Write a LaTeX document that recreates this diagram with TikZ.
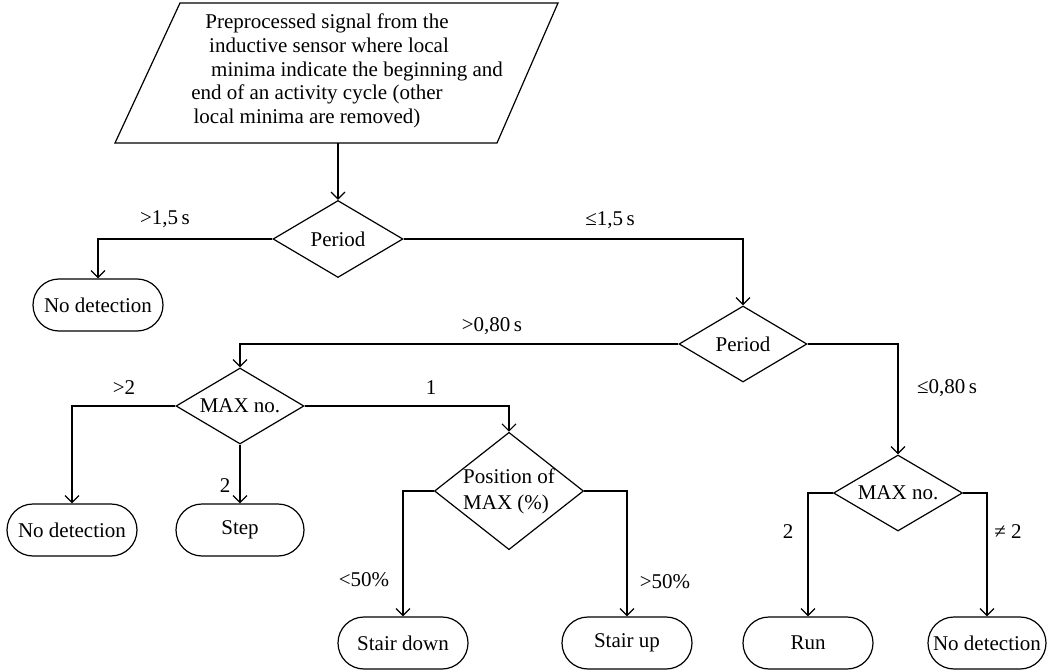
\documentclass[tikz,border=0pt]{standalone}
\usepackage{fontspec}
\setmainfont{Liberation Serif}
\usetikzlibrary{shapes.geometric,shapes.misc,arrows.meta}
\begin{document}
\begin{tikzpicture}[x=1pt,y=-1pt,
  every node/.style={font=\fontsize{21}{24}\selectfont},
  line/.style={line width=1.2pt},
  arr/.style={line width=1.2pt,-{Straight Barb[length=7pt,width=14pt]}},
  term/.style={draw,line width=1.2pt,rounded rectangle,minimum width=130pt,minimum height=52pt,inner sep=0pt},
  dec/.style={draw,line width=1.2pt,diamond,aspect=1.68,minimum width=128pt,minimum height=76pt,inner sep=0pt},
  lbl/.style={inner sep=0pt}]
\useasboundingbox (0,0) rectangle (1047,671);

% input parallelogram
\draw[line] (180,3) -- (558,3) -- (497,143) -- (115,143) -- cycle;
\node[lbl,anchor=base] (t1) at (327,29) {Preprocessed signal from the};
\node[lbl,anchor=base] (t2) at (329,53) {inductive sensor where local};
\node[lbl,anchor=base] (t3) at (357,77) {minima indicate the beginning and};
\node[lbl,anchor=base] (t4) at (317,100) {end of an activity cycle (other};
\node[lbl,anchor=base] (t5) at (307,124) {local minima are removed)};
\coordinate (inp) at (338,143);

% decisions
\node[dec,minimum width=130pt,minimum height=77pt] (d1) at (338,239) {Period};
\node[dec] (d2) at (743,344) {Period};
\node[dec] (d4) at (240,406) {MAX no.};
\node[dec,minimum width=129pt] (d3) at (898,493) {MAX no.};
\node[dec,aspect=1.27,minimum width=148pt,minimum height=115pt,align=left,font=\fontsize{21}{26}\selectfont] (d5) at (509,491) {Position of\\MAX (\%)};

% terminals
\node[term] (nd1) at (98,305) {No detection};
\node[term] (nd2) at (72,530) {No detection};
\node[term,minimum width=128pt] (step) at (240,530) {Step};
\node[term] (sdown) at (403,643) {Stair down};
\node[term] (sup) at (627,643) {Stair up};
\node[term] (run) at (808,643) {Run};
\node[term,minimum width=118pt] (nd3) at (987,643) {No detection};

% connectors
\draw[arr] (inp) -- (d1.north);
\draw[arr] (d1.west) -| (nd1.north);
\draw[arr] (d1.east) -| (d2.north);
\draw[arr] (d2.west) -| (d4.north);
\draw[arr] (d2.east) -| (d3.north);
\draw[arr] (d4.west) -| (nd2.north);
\draw[arr] (d4.south) -- (step.north);
\draw[arr] (d4.east) -| (d5.north);
\draw[arr] (d5.west) -| (sdown.north);
\draw[arr] (d5.east) -| (sup.north);
\draw[arr] (d3.west) -| (run.north);
\draw[arr] (d3.east) -| (nd3.north);

% labels
\node[lbl] (l1) at (165,219) {>1,5\,s};
\node[lbl] (l2) at (610,220) {≤1,5\,s};
\node[lbl] (l3) at (492,326) {>0,80\,s};
\node[lbl] (l4) at (947,388) {≤0,80\,s};
\node[lbl] (l5) at (124,388) {>2};
\node[lbl] (l6) at (431,388) {1};
\node[lbl] (l7) at (225,486) {2};
\node[lbl] (l8) at (364,580) {<50\%};
\node[lbl] (l9) at (665,582) {>50\%};
\node[lbl] (l10) at (788,532) {2};
\node[lbl] (l11) at (1008,532) {≠ 2};
\end{tikzpicture}
\end{document}
